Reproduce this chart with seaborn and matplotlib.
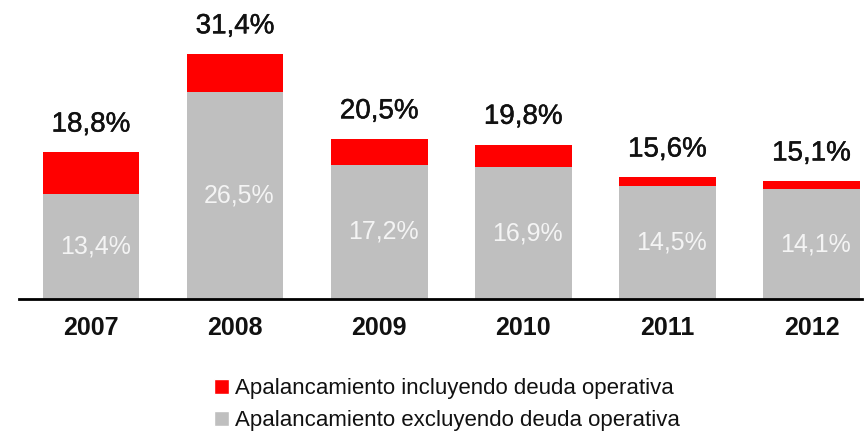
import pandas as pd
import matplotlib
matplotlib.use('Agg')
import matplotlib.pyplot as plt
import matplotlib.patheffects as pe
import seaborn as sns
from matplotlib.patches import Patch

# Datos
years = ['2007', '2008', '2009', '2010', '2011', '2012']
total_incl = [18.8, 31.4, 20.5, 19.8, 15.6, 15.1]
excl = [13.4, 26.5, 17.2, 16.9, 14.5, 14.1]
label_incl = 'Apalancamiento incluyendo deuda operativa'
label_excl = 'Apalancamiento excluyendo deuda operativa'

RED = '#FF0000'
GREY = '#BFBFBF'

df = pd.DataFrame({'year': years, 'incl': total_incl, 'excl': excl})

sns.set_theme(style='white')
plt.rcParams['font.family'] = ['Liberation Sans', 'DejaVu Sans']

fig = plt.figure(figsize=(8.67, 4.34), dpi=100)
ax = fig.add_axes([19 / 867, 135 / 434, 843 / 867, 273 / 434])

# rojo = total, gris encima
sns.barplot(data=df, x='year', y='incl', color=RED, width=0.67, ax=ax,
            saturation=1, edgecolor='none')
sns.barplot(data=df, x='year', y='excl', color=GREY, width=0.67, ax=ax,
            saturation=1, edgecolor='none')

def fmt(v):
    return f'{v:.1f}'.replace('.', ',') + '%'

for i, (t, g) in enumerate(zip(total_incl, excl)):
    ax.annotate(fmt(t), (i, t), xytext=(0, 20), textcoords='offset points',
                ha='center', va='center', fontsize=20, color='#111111',
                path_effects=[pe.withStroke(linewidth=0.35, foreground='#111111')])
    ax.text(i + 0.03, g / 2, fmt(g), ha='center', va='center', fontsize=18,
            color='#F4F4F4')

ax.set_xlim(-0.5, 5.35)
ax.set_ylim(0, 35)
ax.set_xlabel('')
ax.set_ylabel('')
ax.set_yticks([])
ax.tick_params(axis='x', length=0, pad=12, labelsize=18)
for lbl in ax.get_xticklabels():
    lbl.set_fontweight('bold')
    lbl.set_color('#111111')
for s in ['top', 'right', 'left']:
    ax.spines[s].set_visible(False)
ax.spines['bottom'].set_color('black')
ax.spines['bottom'].set_linewidth(2)

handles = [Patch(facecolor=RED, label=label_incl),
           Patch(facecolor=GREY, label=label_excl)]
fig.legend(handles=handles, loc='center', bbox_to_anchor=(0.516, 0.068),
           ncol=1, frameon=False, fontsize=16, handlelength=0.65,
           handleheight=0.65, handletextpad=0.3, labelspacing=0.5,
           labelcolor='#111111', borderaxespad=0, borderpad=0)

fig.savefig('out.png', dpi=100)
